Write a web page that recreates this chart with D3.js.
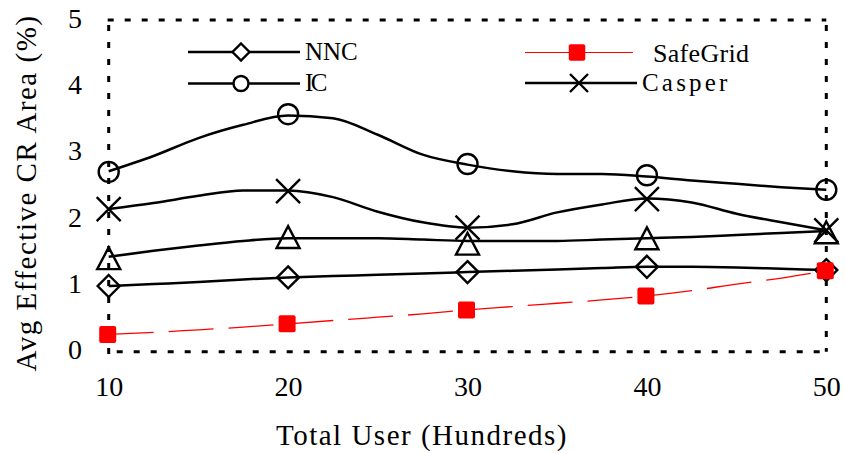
<!DOCTYPE html>
<html>
<head>
<meta charset="utf-8">
<script src="https://cdn.jsdelivr.net/npm/d3@7"></script>
<style>
  html, body { margin: 0; padding: 0; background: #fff; }
  svg { display: block; }
  text { font-family: "Liberation Serif", "Times New Roman", serif; fill: #000; }
</style>
</head>
<body>
<svg id="chart" width="845" height="454"></svg>
<script>
// ---- data ----
const xTicks = [10, 20, 30, 40, 50];
const yTicks = [0, 1, 2, 3, 4, 5];

// marker values at 10..50
const nncPts    = [0.99, 1.12, 1.20, 1.28, 1.23];
const icPts     = [2.71, 3.58, 2.83, 2.66, 2.44];
const safePts   = [0.26, 0.42, 0.63, 0.84, 1.22];
const casperPts = [2.15, 2.42, 1.87, 2.30, 1.83];
const triPts    = [1.40, 1.72, 1.62, 1.70, 1.79];

// smoothed line samples at 2.5 steps
const xLine     = [10, 12.5, 15, 17.5, 20, 22.5, 25, 27.5, 30, 32.5, 35, 37.5, 40, 42.5, 45, 47.5, 50];
const nncLine   = [0.99, 1.02, 1.05, 1.09, 1.12, 1.14, 1.16, 1.18, 1.20, 1.22, 1.24, 1.26, 1.28, 1.28, 1.27, 1.25, 1.23];
const icLine    = [2.72, 2.95, 3.22, 3.42, 3.56, 3.52, 3.27, 2.97, 2.82, 2.72, 2.68, 2.68, 2.64, 2.58, 2.53, 2.48, 2.44];
const casperLine= [2.15, 2.24, 2.35, 2.43, 2.43, 2.33, 2.11, 1.95, 1.87, 1.92, 2.10, 2.22, 2.31, 2.25, 2.08, 1.95, 1.83];
const triLine   = [1.43, 1.52, 1.60, 1.67, 1.71, 1.71, 1.71, 1.69, 1.67, 1.67, 1.67, 1.69, 1.71, 1.73, 1.76, 1.79, 1.82];
const safeLine  = [0.26, 0.29, 0.33, 0.37, 0.42, 0.47, 0.52, 0.57, 0.63, 0.68, 0.73, 0.78, 0.84, 0.92, 1.02, 1.11, 1.22];

const legendNames = ["NNC", "IC", "SafeGrid", "Casper"];

// ---- drawing ----
const svg = d3.select("#chart");
const x = d3.scaleLinear().domain([10, 50]).range([108.7, 826.3]);
const y = d3.scaleLinear().domain([0, 5]).range([351.7, 20]);

// frame (dotted box)
const frame = svg.append("g")
  .attr("stroke", "#000").attr("stroke-width", 3).attr("stroke-dasharray", "6,11").attr("fill", "none");
frame.append("line").attr("x1", x(10) - 1).attr("x2", x(50)).attr("y1", y(5)).attr("y2", y(5));
frame.append("line").attr("x1", x(10)).attr("x2", x(10)).attr("y1", y(5) + 5).attr("y2", y(0) + 4);
frame.append("line").attr("x1", x(10) + 8).attr("x2", x(50)).attr("y1", y(0)).attr("y2", y(0));
frame.append("line").attr("x1", x(50)).attr("x2", x(50)).attr("y1", y(5) + 5).attr("y2", y(0));

// y axis tick labels
const yAxis = d3.axisLeft(y).tickValues(yTicks).tickSize(0).tickPadding(0).tickFormat(d3.format("d"));
const gy = svg.append("g").attr("transform", "translate(82,0)").call(yAxis);
gy.select(".domain").remove();
gy.selectAll("text").attr("font-size", 28).attr("font-family", "Liberation Serif")
  .attr("dy", null).attr("y", 7).attr("x", 0).attr("text-anchor", "end").attr("fill", "#000");

// x axis tick labels
const xAxis = d3.axisBottom(x).tickValues(xTicks).tickSize(0).tickPadding(0).tickFormat(d3.format("d"));
const gx = svg.append("g").attr("transform", "translate(0,396)").call(xAxis);
gx.select(".domain").remove();
gx.selectAll("text").attr("font-size", 28).attr("font-family", "Liberation Serif")
  .attr("dy", null).attr("y", 0).attr("fill", "#000");

// axis titles
svg.append("text").attr("x", 422).attr("y", 445).attr("text-anchor", "middle")
  .attr("font-size", 29).attr("letter-spacing", 1.5).text("Total User (Hundreds)");
svg.append("text").attr("transform", "translate(36,193) rotate(-90)").attr("text-anchor", "middle")
  .attr("font-size", 29).attr("letter-spacing", 1.5).text("Avg Effective CR Area (%)");

// lines
const line = d3.line().x(d => x(d[0])).y(d => y(d[1])).curve(d3.curveMonotoneX);
function drawLine(vals, color, width, dash) {
  const p = svg.append("path").datum(xLine.map((xv, i) => [xv, vals[i]]))
    .attr("d", line).attr("fill", "none").attr("stroke", color).attr("stroke-width", width)
    .attr("stroke-linejoin", "round");
  if (dash) p.attr("stroke-dasharray", dash);
}
drawLine(safeLine, "#ff0000", 1.3, "45,15");
drawLine(nncLine, "#000", 2.5);
drawLine(triLine, "#000", 2.5);
drawLine(casperLine, "#000", 2.5);
drawLine(icLine, "#000", 2.5);

// markers
function marker(g, type, cx, cy, s) {
  if (type === "diamond") {
    g.append("path").attr("d", `M${cx},${cy - s}L${cx + s},${cy}L${cx},${cy + s}L${cx - s},${cy}Z`)
      .attr("fill", "none").attr("stroke", "#000").attr("stroke-width", 2.4);
  } else if (type === "circle") {
    g.append("circle").attr("cx", cx).attr("cy", cy).attr("r", s)
      .attr("fill", "none").attr("stroke", "#000").attr("stroke-width", 2.4);
  } else if (type === "triangle") {
    g.append("path").attr("d", `M${cx},${cy - s}L${cx + s},${cy + s * 0.9}L${cx - s},${cy + s * 0.9}Z`)
      .attr("fill", "none").attr("stroke", "#000").attr("stroke-width", 2.4).attr("stroke-linejoin", "miter");
  } else if (type === "x") {
    g.append("path").attr("d", `M${cx - s},${cy - s}L${cx + s},${cy + s}M${cx - s},${cy + s}L${cx + s},${cy - s}`)
      .attr("fill", "none").attr("stroke", "#000").attr("stroke-width", 2.4);
  } else if (type === "square") {
    g.append("rect").attr("x", cx - s / 2).attr("y", cy - s / 2).attr("width", s).attr("height", s)
      .attr("rx", 2).attr("fill", "#ff0000");
  }
}
const mg = svg.append("g");
xTicks.forEach((xv, i) => {
  marker(mg, "triangle", x(xv), y(triPts[i]), 11.5);
  marker(mg, "diamond", x(xv), y(nncPts[i]), 11);
  marker(mg, "circle", x(xv), y(icPts[i]), 10);
  marker(mg, "x", x(xv), y(casperPts[i]), 12);
});
xTicks.forEach((xv, i) => marker(mg, "square", x(xv) - 1, y(safePts[i]), 17));

// legend
const lg = svg.append("g");
const legendItems = [
  { name: legendNames[0], type: "diamond", s: 8.5, x1: 188, x2: 300, cy: 52, mx: 241, tx: 305, ty: 60, color: "#000", w: 2.5, fs: 25, ls: 0 },
  { name: legendNames[1], type: "circle", s: 7.5, x1: 188, x2: 300, cy: 83.5, mx: 241, tx: 305, ty: 90.5, color: "#000", w: 2.5, fs: 25, ls: -2.5 },
  { name: legendNames[2], type: "square", s: 16.5, x1: 525, x2: 633, cy: 52.5, mx: 577, tx: 653, ty: 62, color: "#ff0000", w: 1.2, fs: 26, ls: 0.3 },
  { name: legendNames[3], type: "x", s: 9, x1: 525, x2: 637, cy: 83, mx: 579, tx: 642, ty: 90.5, color: "#000", w: 2.5, fs: 25, ls: 3.2 }
];
legendItems.forEach(it => {
  lg.append("line").attr("x1", it.x1).attr("x2", it.x2).attr("y1", it.cy).attr("y2", it.cy)
    .attr("stroke", it.color).attr("stroke-width", it.w);
  if (it.type === "diamond" || it.type === "circle") {
    lg.append(it.type === "circle" ? "circle" : "path")
      .attr(it.type === "circle" ? "r" : "d", it.type === "circle" ? it.s :
        `M${it.mx},${it.cy - it.s}L${it.mx + it.s},${it.cy}L${it.mx},${it.cy + it.s}L${it.mx - it.s},${it.cy}Z`)
      .attr("cx", it.mx).attr("cy", it.cy).attr("fill", "#fff");
  }
  marker(lg, it.type, it.mx, it.cy, it.s);
  lg.append("text").attr("x", it.tx).attr("y", it.ty).attr("font-size", it.fs)
    .attr("letter-spacing", it.ls).text(it.name);
});
</script>
</body>
</html>
